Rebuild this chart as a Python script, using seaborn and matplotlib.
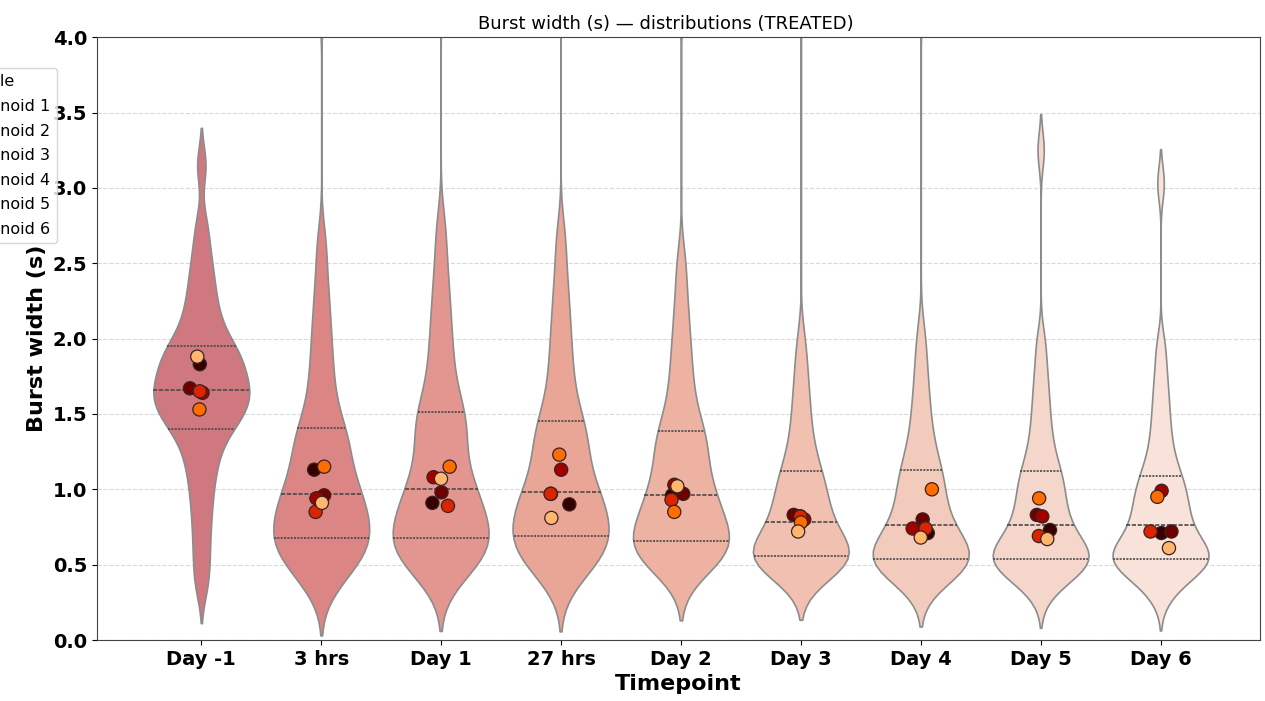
import numpy as np
import pandas as pd
import matplotlib.pyplot as plt
import seaborn as sns

#%% data: burst widths (s) per timepoint, and per-organoid means
timepoints = ['Day -1', '3 hrs', 'Day 1', '27 hrs', 'Day 2', 'Day 3', 'Day 4', 'Day 5', 'Day 6']

bw_day_m1 = [0.36, 0.52, 0.67, 0.81, 0.93, 1.04, 1.13, 1.21, 1.28, 1.34, 1.40,
             1.43, 1.46, 1.49, 1.52, 1.55, 1.575, 1.60, 1.62, 1.64, 1.66,
             1.69, 1.72, 1.75, 1.78, 1.81, 1.84, 1.87, 1.90, 1.925, 1.95,
             2.00, 2.06, 2.12, 2.19, 2.27, 2.36, 2.46, 2.58, 2.75, 3.15]
bw_3hrs   = [0.35, 0.41, 0.46, 0.50, 0.54, 0.57, 0.60, 0.62, 0.64, 0.66, 0.68,
             0.71, 0.74, 0.77, 0.80, 0.83, 0.86, 0.89, 0.92, 0.945, 0.97,
             1.01, 1.05, 1.09, 1.14, 1.19, 1.24, 1.29, 1.33, 1.37, 1.41,
             1.49, 1.58, 1.68, 1.79, 1.91, 2.04, 2.19, 2.37, 2.62, 4.30]
bw_day1   = [0.39, 0.44, 0.48, 0.52, 0.55, 0.58, 0.60, 0.62, 0.64, 0.66, 0.68,
             0.71, 0.74, 0.78, 0.81, 0.84, 0.87, 0.90, 0.94, 0.97, 1.00,
             1.05, 1.10, 1.15, 1.21, 1.27, 1.33, 1.39, 1.44, 1.48, 1.51,
             1.59, 1.68, 1.78, 1.89, 2.01, 2.14, 2.29, 2.47, 2.72, 4.40]
bw_27hrs  = [0.38, 0.44, 0.48, 0.52, 0.55, 0.58, 0.61, 0.63, 0.65, 0.67, 0.69,
             0.72, 0.75, 0.78, 0.81, 0.84, 0.87, 0.90, 0.93, 0.955, 0.98,
             1.02, 1.07, 1.12, 1.17, 1.22, 1.27, 1.32, 1.37, 1.41, 1.45,
             1.53, 1.62, 1.72, 1.83, 1.95, 2.08, 2.23, 2.41, 2.66, 4.40]
bw_day2   = [0.44, 0.48, 0.51, 0.54, 0.56, 0.58, 0.60, 0.62, 0.635, 0.65, 0.66,
             0.69, 0.72, 0.75, 0.78, 0.81, 0.84, 0.87, 0.90, 0.93, 0.96,
             1.00, 1.04, 1.08, 1.13, 1.18, 1.23, 1.28, 1.32, 1.36, 1.39,
             1.46, 1.54, 1.63, 1.73, 1.84, 1.96, 2.10, 2.27, 2.50, 4.30]
bw_day3   = [0.42, 0.45, 0.47, 0.49, 0.50, 0.51, 0.52, 0.53, 0.54, 0.55, 0.56,
             0.57, 0.585, 0.60, 0.62, 0.64, 0.66, 0.685, 0.715, 0.745, 0.78,
             0.81, 0.84, 0.87, 0.905, 0.94, 0.975, 1.01, 1.045, 1.08, 1.12,
             1.17, 1.23, 1.30, 1.38, 1.47, 1.57, 1.68, 1.81, 1.98, 4.30]
bw_day4   = [0.38, 0.42, 0.45, 0.47, 0.48, 0.49, 0.50, 0.51, 0.52, 0.53, 0.54,
             0.555, 0.57, 0.585, 0.605, 0.625, 0.645, 0.67, 0.695, 0.725, 0.76,
             0.79, 0.82, 0.86, 0.90, 0.94, 0.98, 1.02, 1.06, 1.095, 1.13,
             1.18, 1.24, 1.31, 1.39, 1.48, 1.58, 1.70, 1.84, 2.02, 4.30]
bw_day5   = [0.32, 0.37, 0.41, 0.44, 0.46, 0.48, 0.50, 0.51, 0.52, 0.53, 0.54,
             0.555, 0.57, 0.585, 0.605, 0.625, 0.645, 0.67, 0.695, 0.725, 0.76,
             0.79, 0.82, 0.855, 0.89, 0.93, 0.97, 1.01, 1.045, 1.08, 1.12,
             1.17, 1.23, 1.30, 1.38, 1.47, 1.57, 1.68, 1.81, 1.98, 3.25]
bw_day6   = [0.29, 0.35, 0.40, 0.43, 0.46, 0.48, 0.50, 0.51, 0.52, 0.53, 0.54,
             0.555, 0.57, 0.585, 0.605, 0.625, 0.645, 0.67, 0.695, 0.725, 0.76,
             0.79, 0.82, 0.85, 0.88, 0.915, 0.95, 0.985, 1.02, 1.055, 1.09,
             1.14, 1.20, 1.27, 1.35, 1.44, 1.54, 1.65, 1.78, 1.95, 3.03]

organoids = ['Organoid 1', 'Organoid 2', 'Organoid 3', 'Organoid 4', 'Organoid 5', 'Organoid 6']
org1 = [1.83, 1.13, 0.91, 0.90, 0.96, 0.82, 0.71, 0.73, 0.71]
org2 = [1.67, 0.96, 0.98, 0.97, 0.97, 0.83, 0.80, 0.83, 0.72]
org3 = [1.64, 0.94, 1.08, 1.13, 1.03, 0.80, 0.74, 0.82, 0.99]
org4 = [1.65, 0.85, 0.89, 0.97, 0.93, 0.82, 0.74, 0.69, 0.72]
org5 = [1.53, 1.15, 1.15, 1.23, 0.85, 0.78, 1.00, 0.94, 0.95]
org6 = [1.88, 0.91, 1.07, 0.81, 1.02, 0.72, 0.68, 0.67, 0.61]

violin_colors = ['#d07880', '#db8585', '#e3958f', '#e9a596', '#eeb2a2',
                 '#f1c0b0', '#f3cbbd', '#f5d6cb', '#f8e2d9']

#%% long-format tables
burst_lists = [bw_day_m1, bw_3hrs, bw_day1, bw_27hrs, bw_day2, bw_day3, bw_day4, bw_day5, bw_day6]
df_bursts = pd.DataFrame([(tp, v) for tp, vals in zip(timepoints, burst_lists) for v in vals],
                         columns=['Timepoint', 'Burst width (s)'])

org_lists = [org1, org2, org3, org4, org5, org6]
df_org = pd.DataFrame([(tp, name, v) for name, vals in zip(organoids, org_lists) for tp, v in zip(timepoints, vals)],
                      columns=['Timepoint', 'Sample', 'Burst width (s)'])

#%% plot
fig = plt.figure(figsize=(12.65, 7.01), dpi=100)
ax = fig.add_axes([0.0767, 0.087, 0.9194, 0.860])
ax.set_axisbelow(True)
ax.yaxis.grid(True, linestyle='--', color='#d0d0d0', linewidth=0.8, alpha=0.8)

sns.violinplot(data=df_bursts, x='Timepoint', y='Burst width (s)', hue='Timepoint', order=timepoints,
               hue_order=timepoints, palette=violin_colors, legend=False, inner='quart', cut=2,
               density_norm='width', width=0.8, bw_adjust=0.45, saturation=1, linewidth=1.2,
               linecolor='#8c8c8c', inner_kws=dict(color='#4a4a4a'), ax=ax)

np.random.seed(2)
sns.stripplot(data=df_org, x='Timepoint', y='Burst width (s)', hue='Sample', order=timepoints,
              hue_order=organoids, palette='gist_heat', jitter=0.1, size=9.5, linewidth=0.9,
              edgecolor='#3a2222', zorder=3, ax=ax)

ax.set_ylim(0, 4.0)
ax.set_xlim(-0.87, 8.83)
ax.set_yticks(np.arange(0, 4.01, 0.5))
ax.set_title('Burst width (s) \u2014 distributions (TREATED)', fontsize=13, x=0.489)
ax.set_xlabel('Timepoint', fontsize=16, fontweight='bold')
ax.set_ylabel('Burst width (s)', fontsize=16, fontweight='bold')
for lab in ax.get_xticklabels() + ax.get_yticklabels():
    lab.set_fontweight('bold')
    lab.set_fontsize(14)
for sp in ax.spines.values():
    sp.set_color('#444444')

ax.legend(title='Sample', loc='upper right', bbox_to_anchor=(-0.0275, 0.962),
          fontsize=11.5, title_fontsize=11.5, labelspacing=0.6)

fig.savefig('out.png', dpi=100)
